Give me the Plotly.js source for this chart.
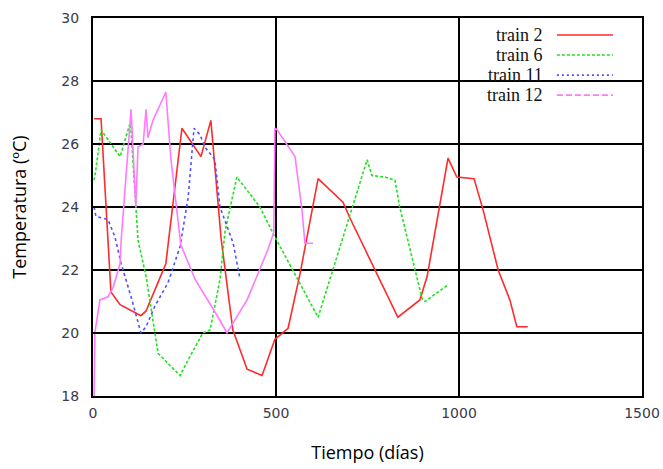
<!DOCTYPE html>
<html>
<head>
<meta charset="utf-8">
<script src="https://cdn.plot.ly/plotly-3.0.1.min.js"></script>
<style>html,body{margin:0;padding:0;background:#fff;}#chart{width:663px;height:469px;}</style>
</head>
<body>
<div id="chart"></div>
<script>
// Series names
const seriesNames = ["train 2", "train 6", "train 11", "train 12"];

// train 2
const t2Days = [3, 22, 49, 74, 131, 145, 172, 199, 243, 295, 322, 350, 382, 421, 462, 497, 533, 566, 615, 683, 702, 833, 893, 913, 970, 994, 1041, 1066, 1107, 1139, 1158, 1188];
const t2Temp = [26.8, 26.8, 21.3, 20.9, 20.55, 20.7, 21.45, 22.2, 26.5, 25.6, 26.75, 23.0, 20.1, 18.85, 18.65, 19.8, 20.15, 21.9, 24.9, 24.15, 23.65, 20.5, 21.05, 21.8, 25.55, 24.95, 24.9, 23.9, 22.0, 21.05, 20.2, 20.2];

// train 6
const t6Days = [3, 8, 22, 74, 101, 104, 123, 145, 178, 238, 260, 300, 320, 347, 361, 393, 456, 497, 615, 749, 762, 798, 825, 838, 899, 907, 967];
const t6Temp = [24.85, 25.2, 26.45, 25.6, 26.65, 26.4, 22.95, 21.8, 19.35, 18.65, 19.15, 20.0, 20.1, 21.7, 23.25, 24.95, 24.0, 23.05, 20.5, 25.5, 25.0, 24.95, 24.85, 24.0, 21.1, 21.0, 21.5];

// train 11
const t11Days = [3, 8, 41, 60, 77, 104, 131, 145, 169, 205, 238, 260, 276, 292, 306, 333, 347, 383, 402];
const t11Temp = [24.0, 23.7, 23.6, 23.05, 22.2, 21.15, 20.0, 20.2, 20.85, 21.6, 22.75, 24.3, 26.5, 26.3, 25.9, 25.5, 24.0, 22.85, 21.7];

// train 12
const t12Days = [3, 5, 19, 41, 55, 74, 77, 104, 117, 123, 137, 145, 150, 164, 199, 213, 240, 279, 342, 366, 421, 478, 494, 497, 503, 552, 571, 579, 601];
const t12Temp = [18.0, 20.0, 21.05, 21.15, 21.45, 22.2, 22.95, 27.1, 24.0, 25.9, 26.0, 27.1, 26.2, 26.75, 27.65, 25.5, 22.8, 21.7, 20.5, 20.0, 21.05, 22.65, 23.2, 26.5, 26.45, 25.6, 23.9, 22.85, 22.85];

// Axis ticks
const xTicks = [0, 500, 1000, 1500];
const yTicks = [18, 20, 22, 24, 26, 28, 30];

const colors = ["#ff2a2a", "#22e022", "#5050ff", "#ff7aff"];
const dashes = ["solid", "3px,2px", "dot", "solid"];
const legendDashes = ["solid", "3px,2px", "2px,3px", "6px,3px"];
const xs = [t2Days, t6Days, t11Days, t12Days];
const ys = [t2Temp, t6Temp, t11Temp, t12Temp];

const traces = seriesNames.map((n, i) => ({
  x: xs[i], y: ys[i], name: n, type: "scatter", mode: "lines",
  line: {color: colors[i], width: 1.6, dash: dashes[i]},
  showlegend: false
}));

// Custom gnuplot-style legend: text then line sample
const legX = 0.823, lineX0 = 0.845, lineX1 = 0.947;
const rowY = [0.955, 0.902, 0.849, 0.796];
const shapes = [{
  type: "rect", xref: "paper", yref: "paper", x0: 0.645, x1: 0.97, y0: 0.77, y1: 0.995,
  fillcolor: "#ffffff", line: {width: 0}, layer: "between"
}];
const annotations = [];
seriesNames.forEach((n, i) => {
  annotations.push({xref: "paper", yref: "paper", x: legX, y: rowY[i], xanchor: "right", yanchor: "middle",
    text: n, showarrow: false, font: {family: "Liberation Serif, serif", size: 18, color: "#111"}});
  shapes.push({type: "line", xref: "paper", yref: "paper", x0: lineX0, x1: lineX1, y0: rowY[i], y1: rowY[i],
    line: {color: colors[i], width: 1.6, dash: legendDashes[i]}, layer: "above"});
});

const layout = {
  width: 663, height: 469,
  margin: {l: 93, r: 21, t: 18, b: 73},
  paper_bgcolor: "#ffffff", plot_bgcolor: "#ffffff",
  showlegend: false,
  xaxis: {
    range: [0, 1500], tickvals: xTicks, ticktext: xTicks.map(String),
    showgrid: true, gridcolor: "#000", gridwidth: 2, zeroline: false,
    showline: true, linecolor: "#000", linewidth: 2, mirror: "ticks",
    ticks: "inside", ticklen: 8, tickwidth: 2, tickcolor: "#000",
    ticklabelstandoff: 3,
    tickfont: {family: "DejaVu Sans, sans-serif", size: 14, color: "#3a3a4a"},
    title: {text: "Tiempo (días)", font: {family: "Open Sans, sans-serif", size: 18, color: "#000"}, standoff: 27}
  },
  yaxis: {
    range: [18, 30], tickvals: yTicks, ticktext: yTicks.map(String),
    showgrid: true, gridcolor: "#000", gridwidth: 2, zeroline: false,
    showline: true, linecolor: "#000", linewidth: 2, mirror: "ticks",
    ticks: "inside", ticklen: 8, tickwidth: 2, tickcolor: "#000",
    ticklabelstandoff: 9,
    tickfont: {family: "DejaVu Sans, sans-serif", size: 14, color: "#3a3a4a"},
    title: {text: "Temperatura (ºC)", font: {family: "Open Sans, sans-serif", size: 18, color: "#000"}, standoff: 30}
  },
  shapes: shapes,
  annotations: annotations
};

Plotly.newPlot("chart", traces, layout, {displayModeBar: false, staticPlot: true});
</script>
</body>
</html>
